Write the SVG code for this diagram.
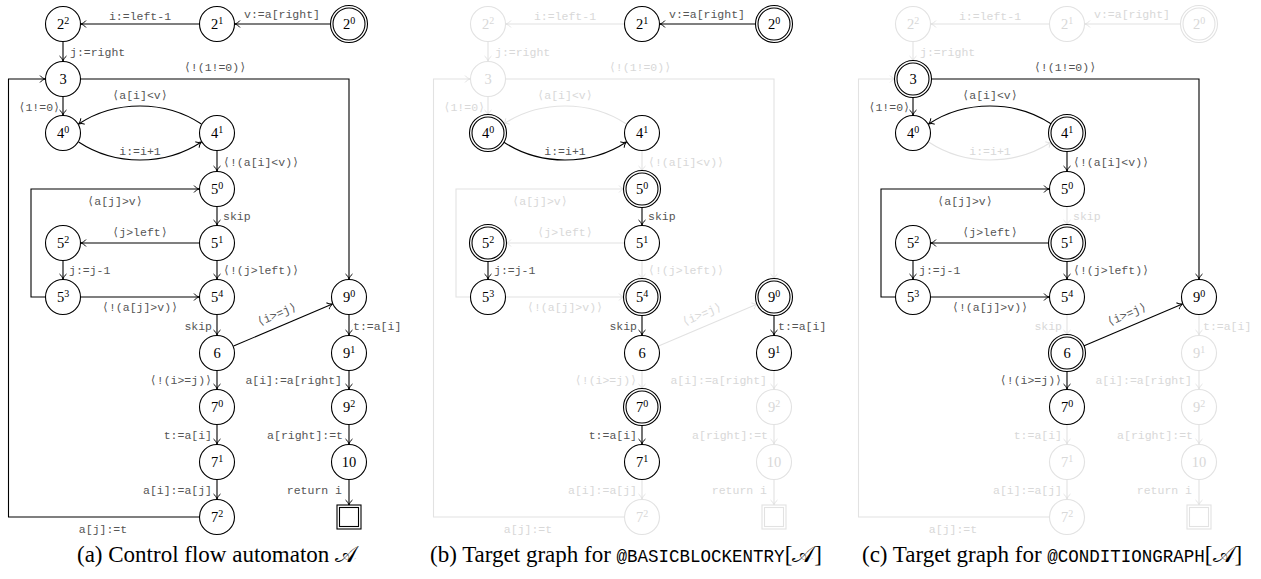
<svg xmlns="http://www.w3.org/2000/svg" width="1261" height="579" viewBox="0 0 1261 579">
<defs>
<style>
.nd circle,.nd rect{fill:#fff;stroke:#000;stroke-width:1.1}
.nd circle.in{fill:none}
.nd text{font-family:"Liberation Serif","Times New Roman",serif;font-size:14.5px;text-anchor:middle;fill:#000}
.sup{font-size:10px}
.nd.f circle,.nd.f rect{stroke:#e2e2e2}
.nd.f text{fill:#d8d8d8}
.ed path{fill:none;stroke:#000;stroke-width:1.1;marker-end:url(#ah)}
.ed text{font-family:"Liberation Mono","DejaVu Sans Mono",monospace;font-size:11.5px;fill:#555}
.ed.f path{stroke:#e2e2e2;marker-end:url(#ahf)}
.ed.f text{fill:#d8d8d8}
.ts{text-anchor:start}.tm{text-anchor:middle}.te{text-anchor:end}
.cap{font-family:"Liberation Serif","Times New Roman",serif;font-size:23px;fill:#000}
.capm{font-family:"Liberation Mono","Courier New",monospace;font-size:17.5px}
.scr{font-family:"DejaVu Serif","DejaVu Sans","Noto Sans",serif}
</style>
<marker id="ah" viewBox="-6 -4 7 8" refX="0" refY="0" markerWidth="7" markerHeight="8" markerUnits="userSpaceOnUse" orient="auto"><path d="M-5,-3.5 C-3.5,-1.5 -1.2,-0.4 0,0 C-1.2,0.4 -3.5,1.5 -5,3.5" fill="none" stroke="#000" stroke-width="1"/></marker>
<marker id="ahf" viewBox="-6 -4 7 8" refX="0" refY="0" markerWidth="7" markerHeight="8" markerUnits="userSpaceOnUse" orient="auto"><path d="M-5,-3.5 C-3.5,-1.5 -1.2,-0.4 0,0 C-1.2,0.4 -3.5,1.5 -5,3.5" fill="none" stroke="#e2e2e2" stroke-width="1"/></marker>
</defs>
<rect width="1261" height="579" fill="#fff"/>

<!-- ===== Panel A ===== -->
<g id="panel-a">
<g id="a-edges">
<g class="ed"><path d="M331,24 H235"/><text class="tm" x="282" y="18">v:=a[right]</text></g>
<g class="ed"><path d="M199,24 H81"/><text class="tm" x="140" y="20">i:=left-1</text></g>
<g class="ed"><path d="M63,42 V61"/><text class="ts" x="70" y="56">j:=right</text></g>
<g class="ed"><path d="M63,97 V115"/><text class="te" x="60" y="111">⟨1!=0⟩</text></g>
<g class="ed"><path d="M81,79 H349 V279"/><text class="tm" x="215" y="71">⟨!(1!=0)⟩</text></g>
<g class="ed"><path d="M201.4,124 C165,100 115,100 78.6,124"/><text class="tm" x="140" y="99">⟨a[i]&lt;v⟩</text></g>
<g class="ed"><path d="M78.6,142 C115,166 165,166 201.4,142"/><text class="tm" x="140" y="155">i:=i+1</text></g>
<g class="ed"><path d="M217,151 V171"/><text class="ts" x="223" y="166">⟨!(a[i]&lt;v)⟩</text></g>
<g class="ed"><path d="M217,207 V225"/><text class="ts" x="223" y="220">skip</text></g>
<g class="ed"><path d="M199,243 H81"/><text class="tm" x="140" y="236">⟨j&gt;left⟩</text></g>
<g class="ed"><path d="M217,261 V279"/><text class="ts" x="223" y="274">⟨!(j&gt;left)⟩</text></g>
<g class="ed"><path d="M63,261 V279"/><text class="ts" x="69" y="274">j:=j-1</text></g>
<g class="ed"><path d="M45,297 H31 V189 H199"/><text class="tm" x="115" y="205">⟨a[j]&gt;v⟩</text></g>
<g class="ed"><path d="M81,297 H199"/><text class="tm" x="140" y="311">⟨!(a[j]&gt;v)⟩</text></g>
<g class="ed"><path d="M217,315 V335"/><text class="te" x="212" y="330">skip</text></g>
<g class="ed"><path d="M233.6,346 L332.4,304"/><text class="tm" transform="translate(277,315) rotate(-23)" x="0" y="3">⟨i&gt;=j⟩</text></g>
<g class="ed"><path d="M217,371 V389"/><text class="te" x="212" y="384">⟨!(i&gt;=j)⟩</text></g>
<g class="ed"><path d="M217,425 V444"/><text class="te" x="212" y="439">t:=a[i]</text></g>
<g class="ed"><path d="M217,480 V499"/><text class="te" x="212" y="494">a[i]:=a[j]</text></g>
<g class="ed"><path d="M199,517 H8.5 V79 H45"/><text class="tm" x="103" y="533">a[j]:=t</text></g>
<g class="ed"><path d="M349,315 V335"/><text class="ts" x="353" y="330">t:=a[i]</text></g>
<g class="ed"><path d="M349,371 V389"/><text class="te" x="342" y="384">a[i]:=a[right]</text></g>
<g class="ed"><path d="M349,425 V444"/><text class="te" x="343" y="439">a[right]:=t</text></g>
<g class="ed"><path d="M349,480 V505"/><text class="te" x="342" y="494">return i</text></g>
</g>
<g id="a-n22" class="nd"><circle cx="63" cy="24" r="17.5"/><text x="63" y="29">2<tspan class="sup" dy="-5">2</tspan></text></g>
<g id="a-n21" class="nd"><circle cx="217" cy="24" r="17.5"/><text x="217" y="29">2<tspan class="sup" dy="-5">1</tspan></text></g>
<g id="a-n20" class="nd"><circle cx="349" cy="24" r="18.5"/><circle class="in" cx="349" cy="24" r="16"/><text x="349" y="29">2<tspan class="sup" dy="-5">0</tspan></text></g>
<g id="a-n3" class="nd"><circle cx="63" cy="79" r="17.5"/><text x="63" y="84">3</text></g>
<g id="a-n40" class="nd"><circle cx="63" cy="133" r="17.5"/><text x="63" y="138">4<tspan class="sup" dy="-5">0</tspan></text></g>
<g id="a-n41" class="nd"><circle cx="217" cy="133" r="17.5"/><text x="217" y="138">4<tspan class="sup" dy="-5">1</tspan></text></g>
<g id="a-n50" class="nd"><circle cx="217" cy="189" r="17.5"/><text x="217" y="194">5<tspan class="sup" dy="-5">0</tspan></text></g>
<g id="a-n51" class="nd"><circle cx="217" cy="243" r="17.5"/><text x="217" y="248">5<tspan class="sup" dy="-5">1</tspan></text></g>
<g id="a-n52" class="nd"><circle cx="63" cy="243" r="17.5"/><text x="63" y="248">5<tspan class="sup" dy="-5">2</tspan></text></g>
<g id="a-n53" class="nd"><circle cx="63" cy="297" r="17.5"/><text x="63" y="302">5<tspan class="sup" dy="-5">3</tspan></text></g>
<g id="a-n54" class="nd"><circle cx="217" cy="297" r="17.5"/><text x="217" y="302">5<tspan class="sup" dy="-5">4</tspan></text></g>
<g id="a-n6" class="nd"><circle cx="217" cy="353" r="17.5"/><text x="217" y="358">6</text></g>
<g id="a-n70" class="nd"><circle cx="217" cy="407" r="17.5"/><text x="217" y="412">7<tspan class="sup" dy="-5">0</tspan></text></g>
<g id="a-n71" class="nd"><circle cx="217" cy="462" r="17.5"/><text x="217" y="467">7<tspan class="sup" dy="-5">1</tspan></text></g>
<g id="a-n72" class="nd"><circle cx="217" cy="517" r="17.5"/><text x="217" y="522">7<tspan class="sup" dy="-5">2</tspan></text></g>
<g id="a-n90" class="nd"><circle cx="349" cy="297" r="17.5"/><text x="349" y="302">9<tspan class="sup" dy="-5">0</tspan></text></g>
<g id="a-n91" class="nd"><circle cx="349" cy="353" r="17.5"/><text x="349" y="358">9<tspan class="sup" dy="-5">1</tspan></text></g>
<g id="a-n92" class="nd"><circle cx="349" cy="407" r="17.5"/><text x="349" y="412">9<tspan class="sup" dy="-5">2</tspan></text></g>
<g id="a-n10" class="nd"><circle cx="349" cy="462" r="17.5"/><text x="349" y="467">10</text></g>
<g id="a-fin" class="nd"><rect x="337" y="505" width="24" height="24"/><rect x="339.5" y="507.5" width="19" height="19"/></g>
<text id="cap-a" class="cap" x="77" y="562">(a) Control flow automaton <tspan class="scr">𝒜</tspan></text>
</g>

<!-- ===== Panel B ===== -->
<g id="panel-b" transform="translate(425,0)">
<g id="b-edges">
<g class="ed f"><path d="M199,24 H81"/><text class="tm" x="140" y="20">i:=left-1</text></g>
<g class="ed f"><path d="M63,42 V61"/><text class="ts" x="70" y="56">j:=right</text></g>
<g class="ed f"><path d="M63,97 V115"/><text class="te" x="60" y="111">⟨1!=0⟩</text></g>
<g class="ed f"><path d="M81,79 H349 V279"/><text class="tm" x="215" y="71">⟨!(1!=0)⟩</text></g>
<g class="ed f"><path d="M201.4,124 C165,100 115,100 78.6,124"/><text class="tm" x="140" y="99">⟨a[i]&lt;v⟩</text></g>
<g class="ed f"><path d="M217,151 V171"/><text class="ts" x="223" y="166">⟨!(a[i]&lt;v)⟩</text></g>
<g class="ed f"><path d="M199,243 H81"/><text class="tm" x="140" y="236">⟨j&gt;left⟩</text></g>
<g class="ed f"><path d="M217,261 V279"/><text class="ts" x="223" y="274">⟨!(j&gt;left)⟩</text></g>
<g class="ed f"><path d="M45,297 H31 V189 H199"/><text class="tm" x="115" y="205">⟨a[j]&gt;v⟩</text></g>
<g class="ed f"><path d="M81,297 H199"/><text class="tm" x="140" y="311">⟨!(a[j]&gt;v)⟩</text></g>
<g class="ed f"><path d="M233.6,346 L332.4,304"/><text class="tm" transform="translate(277,315) rotate(-23)" x="0" y="3">⟨i&gt;=j⟩</text></g>
<g class="ed f"><path d="M217,371 V389"/><text class="te" x="212" y="384">⟨!(i&gt;=j)⟩</text></g>
<g class="ed f"><path d="M217,480 V499"/><text class="te" x="212" y="494">a[i]:=a[j]</text></g>
<g class="ed f"><path d="M199,517 H8.5 V79 H45"/><text class="tm" x="103" y="533">a[j]:=t</text></g>
<g class="ed f"><path d="M349,371 V389"/><text class="te" x="342" y="384">a[i]:=a[right]</text></g>
<g class="ed f"><path d="M349,425 V444"/><text class="te" x="343" y="439">a[right]:=t</text></g>
<g class="ed f"><path d="M349,480 V505"/><text class="te" x="342" y="494">return i</text></g>
<g class="ed"><path d="M331,24 H235"/><text class="tm" x="282" y="18">v:=a[right]</text></g>
<g class="ed"><path d="M78.6,142 C115,166 165,166 201.4,142"/><text class="tm" x="140" y="155">i:=i+1</text></g>
<g class="ed"><path d="M217,207 V225"/><text class="ts" x="223" y="220">skip</text></g>
<g class="ed"><path d="M63,261 V279"/><text class="ts" x="69" y="274">j:=j-1</text></g>
<g class="ed"><path d="M217,315 V335"/><text class="te" x="212" y="330">skip</text></g>
<g class="ed"><path d="M217,425 V444"/><text class="te" x="212" y="439">t:=a[i]</text></g>
<g class="ed"><path d="M349,315 V335"/><text class="ts" x="353" y="330">t:=a[i]</text></g>
</g>
<g id="b-n22" class="nd f"><circle cx="63" cy="24" r="17.5"/><text x="63" y="29">2<tspan class="sup" dy="-5">2</tspan></text></g>
<g id="b-n21" class="nd"><circle cx="217" cy="24" r="17.5"/><text x="217" y="29">2<tspan class="sup" dy="-5">1</tspan></text></g>
<g id="b-n20" class="nd"><circle cx="349" cy="24" r="18.5"/><circle class="in" cx="349" cy="24" r="16"/><text x="349" y="29">2<tspan class="sup" dy="-5">0</tspan></text></g>
<g id="b-n3" class="nd f"><circle cx="63" cy="79" r="17.5"/><text x="63" y="84">3</text></g>
<g id="b-n40" class="nd"><circle cx="63" cy="133" r="18.5"/><circle class="in" cx="63" cy="133" r="16"/><text x="63" y="138">4<tspan class="sup" dy="-5">0</tspan></text></g>
<g id="b-n41" class="nd"><circle cx="217" cy="133" r="17.5"/><text x="217" y="138">4<tspan class="sup" dy="-5">1</tspan></text></g>
<g id="b-n50" class="nd"><circle cx="217" cy="189" r="18.5"/><circle class="in" cx="217" cy="189" r="16"/><text x="217" y="194">5<tspan class="sup" dy="-5">0</tspan></text></g>
<g id="b-n51" class="nd"><circle cx="217" cy="243" r="17.5"/><text x="217" y="248">5<tspan class="sup" dy="-5">1</tspan></text></g>
<g id="b-n52" class="nd"><circle cx="63" cy="243" r="18.5"/><circle class="in" cx="63" cy="243" r="16"/><text x="63" y="248">5<tspan class="sup" dy="-5">2</tspan></text></g>
<g id="b-n53" class="nd"><circle cx="63" cy="297" r="17.5"/><text x="63" y="302">5<tspan class="sup" dy="-5">3</tspan></text></g>
<g id="b-n54" class="nd"><circle cx="217" cy="297" r="18.5"/><circle class="in" cx="217" cy="297" r="16"/><text x="217" y="302">5<tspan class="sup" dy="-5">4</tspan></text></g>
<g id="b-n6" class="nd"><circle cx="217" cy="353" r="17.5"/><text x="217" y="358">6</text></g>
<g id="b-n70" class="nd"><circle cx="217" cy="407" r="18.5"/><circle class="in" cx="217" cy="407" r="16"/><text x="217" y="412">7<tspan class="sup" dy="-5">0</tspan></text></g>
<g id="b-n71" class="nd"><circle cx="217" cy="462" r="17.5"/><text x="217" y="467">7<tspan class="sup" dy="-5">1</tspan></text></g>
<g id="b-n72" class="nd f"><circle cx="217" cy="517" r="17.5"/><text x="217" y="522">7<tspan class="sup" dy="-5">2</tspan></text></g>
<g id="b-n90" class="nd"><circle cx="349" cy="297" r="18.5"/><circle class="in" cx="349" cy="297" r="16"/><text x="349" y="302">9<tspan class="sup" dy="-5">0</tspan></text></g>
<g id="b-n91" class="nd"><circle cx="349" cy="353" r="17.5"/><text x="349" y="358">9<tspan class="sup" dy="-5">1</tspan></text></g>
<g id="b-n92" class="nd f"><circle cx="349" cy="407" r="17.5"/><text x="349" y="412">9<tspan class="sup" dy="-5">2</tspan></text></g>
<g id="b-n10" class="nd f"><circle cx="349" cy="462" r="17.5"/><text x="349" y="467">10</text></g>
<g id="b-fin" class="nd f"><rect x="337" y="505" width="24" height="24"/><rect x="339.5" y="507.5" width="19" height="19"/></g>
<text id="cap-b" class="cap" x="5" y="562">(b) Target graph for <tspan class="capm">@BASICBLOCKENTRY</tspan>[<tspan class="scr">𝒜</tspan>]</text>
</g>

<!-- ===== Panel C ===== -->
<g id="panel-c" transform="translate(850,0)">
<g id="c-edges">
<g class="ed f"><path d="M331,24 H235"/><text class="tm" x="282" y="18">v:=a[right]</text></g>
<g class="ed f"><path d="M199,24 H81"/><text class="tm" x="140" y="20">i:=left-1</text></g>
<g class="ed f"><path d="M63,42 V61"/><text class="ts" x="70" y="56">j:=right</text></g>
<g class="ed f"><path d="M78.6,142 C115,166 165,166 201.4,142"/><text class="tm" x="140" y="155">i:=i+1</text></g>
<g class="ed f"><path d="M217,207 V225"/><text class="ts" x="223" y="220">skip</text></g>
<g class="ed f"><path d="M217,315 V335"/><text class="te" x="212" y="330">skip</text></g>
<g class="ed f"><path d="M217,425 V444"/><text class="te" x="212" y="439">t:=a[i]</text></g>
<g class="ed f"><path d="M217,480 V499"/><text class="te" x="212" y="494">a[i]:=a[j]</text></g>
<g class="ed f"><path d="M199,517 H8.5 V79 H45"/><text class="tm" x="103" y="533">a[j]:=t</text></g>
<g class="ed f"><path d="M349,315 V335"/><text class="ts" x="353" y="330">t:=a[i]</text></g>
<g class="ed f"><path d="M349,371 V389"/><text class="te" x="342" y="384">a[i]:=a[right]</text></g>
<g class="ed f"><path d="M349,425 V444"/><text class="te" x="343" y="439">a[right]:=t</text></g>
<g class="ed f"><path d="M349,480 V505"/><text class="te" x="342" y="494">return i</text></g>
<g class="ed"><path d="M63,97 V115"/><text class="te" x="60" y="111">⟨1!=0⟩</text></g>
<g class="ed"><path d="M81,79 H349 V279"/><text class="tm" x="215" y="71">⟨!(1!=0)⟩</text></g>
<g class="ed"><path d="M201.4,124 C165,100 115,100 78.6,124"/><text class="tm" x="140" y="99">⟨a[i]&lt;v⟩</text></g>
<g class="ed"><path d="M217,151 V171"/><text class="ts" x="223" y="166">⟨!(a[i]&lt;v)⟩</text></g>
<g class="ed"><path d="M199,243 H81"/><text class="tm" x="140" y="236">⟨j&gt;left⟩</text></g>
<g class="ed"><path d="M217,261 V279"/><text class="ts" x="223" y="274">⟨!(j&gt;left)⟩</text></g>
<g class="ed"><path d="M63,261 V279"/><text class="ts" x="69" y="274">j:=j-1</text></g>
<g class="ed"><path d="M45,297 H31 V189 H199"/><text class="tm" x="115" y="205">⟨a[j]&gt;v⟩</text></g>
<g class="ed"><path d="M81,297 H199"/><text class="tm" x="140" y="311">⟨!(a[j]&gt;v)⟩</text></g>
<g class="ed"><path d="M233.6,346 L332.4,304"/><text class="tm" transform="translate(277,315) rotate(-23)" x="0" y="3">⟨i&gt;=j⟩</text></g>
<g class="ed"><path d="M217,371 V389"/><text class="te" x="212" y="384">⟨!(i&gt;=j)⟩</text></g>
</g>
<g id="c-n22" class="nd f"><circle cx="63" cy="24" r="17.5"/><text x="63" y="29">2<tspan class="sup" dy="-5">2</tspan></text></g>
<g id="c-n21" class="nd f"><circle cx="217" cy="24" r="17.5"/><text x="217" y="29">2<tspan class="sup" dy="-5">1</tspan></text></g>
<g id="c-n20" class="nd f"><circle cx="349" cy="24" r="18.5"/><circle class="in" cx="349" cy="24" r="16"/><text x="349" y="29">2<tspan class="sup" dy="-5">0</tspan></text></g>
<g id="c-n3" class="nd"><circle cx="63" cy="79" r="18.5"/><circle class="in" cx="63" cy="79" r="16"/><text x="63" y="84">3</text></g>
<g id="c-n40" class="nd"><circle cx="63" cy="133" r="17.5"/><text x="63" y="138">4<tspan class="sup" dy="-5">0</tspan></text></g>
<g id="c-n41" class="nd"><circle cx="217" cy="133" r="18.5"/><circle class="in" cx="217" cy="133" r="16"/><text x="217" y="138">4<tspan class="sup" dy="-5">1</tspan></text></g>
<g id="c-n50" class="nd"><circle cx="217" cy="189" r="17.5"/><text x="217" y="194">5<tspan class="sup" dy="-5">0</tspan></text></g>
<g id="c-n51" class="nd"><circle cx="217" cy="243" r="18.5"/><circle class="in" cx="217" cy="243" r="16"/><text x="217" y="248">5<tspan class="sup" dy="-5">1</tspan></text></g>
<g id="c-n52" class="nd"><circle cx="63" cy="243" r="17.5"/><text x="63" y="248">5<tspan class="sup" dy="-5">2</tspan></text></g>
<g id="c-n53" class="nd"><circle cx="63" cy="297" r="17.5"/><text x="63" y="302">5<tspan class="sup" dy="-5">3</tspan></text></g>
<g id="c-n54" class="nd"><circle cx="217" cy="297" r="17.5"/><text x="217" y="302">5<tspan class="sup" dy="-5">4</tspan></text></g>
<g id="c-n6" class="nd"><circle cx="217" cy="353" r="18.5"/><circle class="in" cx="217" cy="353" r="16"/><text x="217" y="358">6</text></g>
<g id="c-n70" class="nd"><circle cx="217" cy="407" r="17.5"/><text x="217" y="412">7<tspan class="sup" dy="-5">0</tspan></text></g>
<g id="c-n71" class="nd f"><circle cx="217" cy="462" r="17.5"/><text x="217" y="467">7<tspan class="sup" dy="-5">1</tspan></text></g>
<g id="c-n72" class="nd f"><circle cx="217" cy="517" r="17.5"/><text x="217" y="522">7<tspan class="sup" dy="-5">2</tspan></text></g>
<g id="c-n90" class="nd"><circle cx="349" cy="297" r="17.5"/><text x="349" y="302">9<tspan class="sup" dy="-5">0</tspan></text></g>
<g id="c-n91" class="nd f"><circle cx="349" cy="353" r="17.5"/><text x="349" y="358">9<tspan class="sup" dy="-5">1</tspan></text></g>
<g id="c-n92" class="nd f"><circle cx="349" cy="407" r="17.5"/><text x="349" y="412">9<tspan class="sup" dy="-5">2</tspan></text></g>
<g id="c-n10" class="nd f"><circle cx="349" cy="462" r="17.5"/><text x="349" y="467">10</text></g>
<g id="c-fin" class="nd f"><rect x="337" y="505" width="24" height="24"/><rect x="339.5" y="507.5" width="19" height="19"/></g>
<text id="cap-c" class="cap" x="12" y="562">(c) Target graph for <tspan class="capm">@CONDITIONGRAPH</tspan>[<tspan class="scr">𝒜</tspan>]</text>
</g>
</svg>
